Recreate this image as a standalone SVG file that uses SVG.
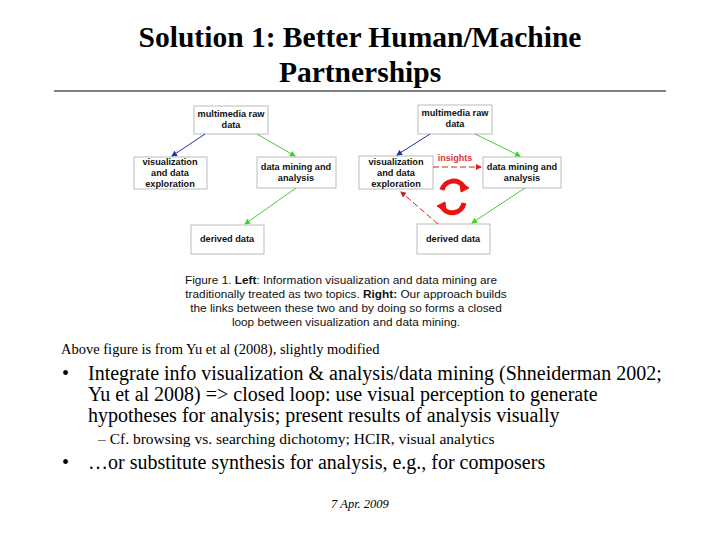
<svg xmlns="http://www.w3.org/2000/svg" width="720" height="540" viewBox="0 0 720 540">
<style>
.t{font-family:"Liberation Serif",serif;fill:#000}
.b rect{fill:#fff;stroke:#bbb;stroke-width:1}
.b text{font-family:"Liberation Sans",sans-serif;font-size:9.2px;font-weight:bold;text-anchor:middle;fill:#111}
.cap{font-family:"Liberation Sans",sans-serif;font-size:11.8px;text-anchor:middle;fill:#111}
</style>
<defs>
<marker id="mb" markerWidth="6" markerHeight="6" refX="5" refY="3" orient="auto"><path d="M0,0L6,3L0,6z" fill="#2233aa"/></marker>
<marker id="mg" markerWidth="6" markerHeight="6" refX="5" refY="3" orient="auto"><path d="M0,0L6,3L0,6z" fill="#44cc33"/></marker>
<marker id="mr" markerWidth="6" markerHeight="6" refX="5" refY="3" orient="auto"><path d="M0,0L6,3L0,6z" fill="#cc2222"/></marker>
</defs>
<rect width="720" height="540" fill="#fff"/>
<text class="t" x="360" y="47" font-size="29.5" font-weight="bold" text-anchor="middle">Solution 1: Better Human/Machine</text>
<text class="t" x="360" y="82" font-size="29.5" font-weight="bold" text-anchor="middle">Partnerships</text>
<line x1="54" y1="91" x2="666" y2="91" stroke="#000" stroke-width="1"/>
<g id="l-raw" class="b"><rect x="194" y="106" width="74" height="28"/><text x="231" y="117">multimedia raw</text><text x="231" y="128">data</text></g>
<g id="l-vis" class="b"><rect x="134" y="157" width="73" height="32"/><text x="170" y="165">visualization</text><text x="170" y="176">and data</text><text x="170" y="187">exploration</text></g>
<g id="l-dm" class="b"><rect x="257" y="157" width="79" height="31"/><text x="296" y="170">data mining and</text><text x="296" y="181">analysis</text></g>
<g id="l-der" class="b"><rect x="191" y="225" width="73" height="29"/><text x="227" y="242">derived data</text></g>
<g id="r-raw" class="b"><rect x="418" y="105" width="74" height="29"/><text x="455" y="116">multimedia raw</text><text x="455" y="127">data</text></g>
<g id="r-vis" class="b"><rect x="359" y="156" width="74" height="33"/><text x="396" y="165">visualization</text><text x="396" y="176">and data</text><text x="396" y="187">exploration</text></g>
<g id="r-dm" class="b"><rect x="483" y="157" width="78" height="31"/><text x="522" y="170">data mining and</text><text x="522" y="181">analysis</text></g>
<g id="r-der" class="b"><rect x="417" y="224" width="73" height="30"/><text x="453" y="242">derived data</text></g>
<g id="connectors" fill="none" stroke-width="1">
<line x1="205" y1="134" x2="172" y2="156" stroke="#2233aa" marker-end="url(#mb)"/>
<line x1="257" y1="134" x2="295" y2="156" stroke="#44cc33" marker-end="url(#mg)"/>
<line x1="296" y1="188" x2="245" y2="224" stroke="#44cc33" marker-end="url(#mg)"/>
<line x1="430" y1="134" x2="397" y2="155" stroke="#2233aa" marker-end="url(#mb)"/>
<line x1="475" y1="134" x2="520" y2="156" stroke="#44cc33" marker-end="url(#mg)"/>
<line x1="525" y1="188" x2="472" y2="223" stroke="#44cc33" marker-end="url(#mg)"/>
<line x1="433" y1="167" x2="481" y2="167" stroke="#cc2222" stroke-dasharray="6,3" marker-end="url(#mr)"/>
<line x1="438" y1="224" x2="401" y2="192" stroke="#cc2222" stroke-dasharray="6,3" marker-end="url(#mr)"/>
</g>
<text x="455" y="161" font-family="Liberation Sans,sans-serif" font-size="9" font-weight="bold" fill="#dd3333" text-anchor="middle">insights</text>
<g id="cycle" fill="none" stroke="#ee1111" stroke-width="5">
<path d="M442,190 A12,12 0 0 1 464,187"/>
<path d="M464,203 A12,12 0 0 1 442,207"/>
<path d="M460,182 L469,188 L461,192z" fill="#ee1111" stroke-width="1"/>
<path d="M446,212 L437,206 L445,202z" fill="#ee1111" stroke-width="1"/>
</g>
<text class="cap" x="341" y="284"><tspan>Figure 1.  </tspan><tspan font-weight="bold">Left</tspan><tspan>: Information visualization and data mining are</tspan></text>
<text class="cap" x="346" y="298"><tspan>traditionally treated as two topics. </tspan><tspan font-weight="bold">Right:</tspan><tspan> Our approach builds</tspan></text>
<text class="cap" x="346" y="312">the links between these two and by doing so forms a closed</text>
<text class="cap" x="346" y="326">loop between visualization and data mining.</text>
<text class="t" x="61" y="354" font-size="14.5">Above figure is from Yu et al (2008), slightly modified</text>
<text class="t" x="62" y="380" font-size="20">•</text>
<text class="t" x="88" y="380" font-size="20">Integrate info visualization &amp; analysis/data mining (Shneiderman 2002;</text>
<text class="t" x="88" y="401" font-size="20">Yu et al 2008) =&gt; closed loop: use visual perception to generate</text>
<text class="t" x="88" y="422" font-size="20">hypotheses for analysis; present results of analysis visually</text>
<text class="t" x="98" y="444" font-size="15.5">–  Cf. browsing vs. searching dichotomy; HCIR, visual analytics</text>
<text class="t" x="62" y="469" font-size="20">•</text>
<text class="t" x="88" y="469" font-size="20">…or substitute synthesis for analysis, e.g., for composers</text>
<text class="t" x="360" y="508" font-size="12.5" font-style="italic" text-anchor="middle">7 Apr. 2009</text>
</svg>
